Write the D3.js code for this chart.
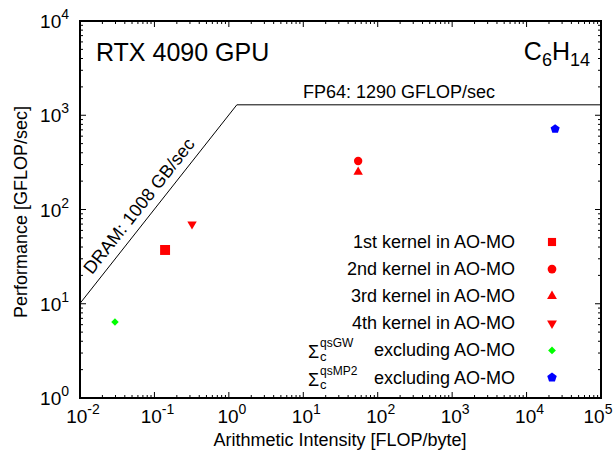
<!DOCTYPE html>
<html>
<head>
<meta charset="utf-8">
<script src="https://cdn.jsdelivr.net/npm/d3@7"></script>
<style>
body { margin: 0; background: #fff; }
text { font-family: "Liberation Sans", Arial, sans-serif; fill: #000; }
</style>
</head>
<body>
<svg id="chart" width="614" height="453"></svg>
<script>
// roofline numbers
var bandwidth = 1008;   // GB/sec
var peak = 1290;        // GFLOP/sec

// kernel points: arithmetic intensity, performance
var kernelNames = ["1st kernel in AO-MO", "2nd kernel in AO-MO", "3rd kernel in AO-MO",
                   "4th kernel in AO-MO", "excluding AO-MO", "excluding AO-MO"];
var kernelSup = ["", "", "", "", "qsGW", "qsMP2"];
var intensity = [0.139, 54.6, 54.6, 0.32, 0.0295, 24200];
var performance = [37.2, 327, 250, 70, 6.4, 715];
var shapes = ["square", "circle", "triUp", "triDown", "diamond", "pentagon"];
var colors = ["#ff0000", "#ff0000", "#ff0000", "#ff0000", "#00ff00", "#0000ff"];

var xExp = [-2, -1, 0, 1, 2, 3, 4, 5];
var yExp = [0, 1, 2, 3, 4];

var svg = d3.select("#chart");
var pLeft = 80, pRight = 601, pTop = 21, pBottom = 398;

var xScale = d3.scaleLog().domain([1e-2, 1e5]).range([pLeft, pRight]);
var yScale = d3.scaleLog().domain([1, 1e4]).range([pBottom, pTop]);

//Minor tick values
var minors = function(lo, hi) {
    var out = [];
    for (var e = lo; e < hi; e++) {
        for (var k = 2; k <= 9; k++) out.push(k * Math.pow(10, e));
    }
    return out;
};
var xMinor = minors(-2, 5);
var yMinor = minors(0, 4);

var g = svg.append("g");

//ticks, inward and mirrored
var drawTicks = function(vals, len) {
    vals.forEach(function(v) {
        var x = xScale(v);
        g.append("line").attr("x1", x).attr("x2", x).attr("y1", pBottom).attr("y2", pBottom - len)
            .attr("stroke", "#000");
        g.append("line").attr("x1", x).attr("x2", x).attr("y1", pTop).attr("y2", pTop + len)
            .attr("stroke", "#000");
    });
};
drawTicks(xMinor, 3);
drawTicks(xExp.map(function(e) { return Math.pow(10, e); }), 6);

var drawYTicks = function(vals, len) {
    vals.forEach(function(v) {
        var y = yScale(v);
        g.append("line").attr("x1", pLeft).attr("x2", pLeft + len).attr("y1", y).attr("y2", y)
            .attr("stroke", "#000");
        g.append("line").attr("x1", pRight).attr("x2", pRight - len).attr("y1", y).attr("y2", y)
            .attr("stroke", "#000");
    });
};
drawYTicks(yMinor, 3);
drawYTicks(yExp.map(function(e) { return Math.pow(10, e); }), 6);

//frame
g.append("rect").attr("x", pLeft).attr("y", pTop).attr("width", pRight - pLeft).attr("height", pBottom - pTop)
    .attr("fill", "none").attr("stroke", "#000").attr("stroke-width", 2);

//tick labels
xExp.forEach(function(e) {
    var t = svg.append("text").attr("x", Math.min(xScale(Math.pow(10, e)) + 3, 598)).attr("y", 423)
        .attr("text-anchor", "middle").style("font-size", "19px");
    t.append("tspan").text("10");
    t.append("tspan").attr("dy", -9).style("font-size", "14px").text(e);
});
yExp.forEach(function(e) {
    var t = svg.append("text").attr("x", 69).attr("y", yScale(Math.pow(10, e)) + 7)
        .attr("text-anchor", "end").style("font-size", "19px");
    t.append("tspan").text("10");
    t.append("tspan").attr("dy", -9).style("font-size", "14px").text(e);
});

//axis titles
svg.append("text").attr("x", 340).attr("y", 446).attr("text-anchor", "middle")
    .style("font-size", "18px").text("Arithmetic Intensity [FLOP/byte]");
svg.append("text").attr("transform", "translate(27,212) rotate(-90)").attr("text-anchor", "middle")
    .style("font-size", "18px").text("Performance [GFLOP/sec]");

//roofline
var ridge = peak / bandwidth;
var roof = [[1e-2, bandwidth * 1e-2], [ridge, peak], [1e5, peak]];
var line = d3.line().x(function(d) { return xScale(d[0]); }).y(function(d) { return yScale(d[1]); });
g.append("path").attr("d", line(roof)).attr("fill", "none").attr("stroke", "#000").attr("stroke-width", 1);

//roof labels
svg.append("text").attr("x", 303).attr("y", 98).style("font-size", "18px")
    .text("FP64: " + peak + " GFLOP/sec");
var angle = Math.atan2(yScale(1) - yScale(10), xScale(10) - xScale(1)) * 180 / Math.PI;
var ax = 0.0176, ay = bandwidth * ax;
svg.append("text")
    .attr("transform", "translate(" + xScale(ax) + "," + yScale(ay) + ") rotate(" + (-angle) + ")")
    .attr("y", -8)
    .style("font-size", "18px").text("DRAM: " + bandwidth + " GB/sec");

//titles
svg.append("text").attr("x", 96).attr("y", 61).style("font-size", "25px").text("RTX 4090 GPU");
var ct = svg.append("text").attr("x", 590).attr("y", 60).attr("text-anchor", "end").style("font-size", "25px");
ct.append("tspan").text("C");
ct.append("tspan").attr("dy", 6).style("font-size", "18px").text("6");
ct.append("tspan").attr("dy", -6).text("H");
ct.append("tspan").attr("dy", 6).style("font-size", "18px").text("14");

//marker symbols
var symbolFor = function(s, size) {
    if (s == "square") return d3.symbol().type(d3.symbolSquare).size(size * 1.1)();
    if (s == "circle") return d3.symbol().type(d3.symbolCircle).size(size)();
    if (s == "triUp") return d3.symbol().type(d3.symbolTriangle).size(size * 0.7)();
    if (s == "triDown") return d3.symbol().type(d3.symbolTriangle).size(size * 0.7)();
    if (s == "diamond") return d3.symbol().type(d3.symbolSquare).size(size * 0.5)();
    // pentagon
    var r = Math.sqrt(size / 2.4), pts = [];
    for (var i = 0; i < 5; i++) {
        var a = -Math.PI / 2 + i * 2 * Math.PI / 5;
        pts.push([r * Math.cos(a), r * Math.sin(a)]);
    }
    return "M" + pts.join("L") + "Z";
};
var rotFor = function(s) {
    if (s == "triDown") return " rotate(180)";
    if (s == "diamond") return " rotate(45)";
    return "";
};

//data points
g.selectAll(".pt").data(d3.range(intensity.length)).enter().append("path")
    .attr("class", "pt")
    .attr("d", function(i) { return symbolFor(shapes[i], i == 0 ? 90 : 55); })
    .attr("transform", function(i) {
        return "translate(" + xScale(intensity[i]) + "," + yScale(performance[i]) + ")" + rotFor(shapes[i]);
    })
    .attr("fill", function(i) { return colors[i]; });

//legend
var legY = 242, legStep = 27.1;
kernelNames.forEach(function(name, i) {
    var y = legY + i * legStep;
    svg.append("text").attr("x", 515).attr("y", y + 6).attr("text-anchor", "end")
        .style("font-size", "18px").text(name);
    if (kernelSup[i]) {
        svg.append("text").attr("x", 308).attr("y", y + 8).style("font-size", "18px").text("\u03a3");
        svg.append("text").attr("x", 320).attr("y", y + 11).style("font-size", "13px").text("c");
        svg.append("text").attr("x", 320).attr("y", y - 3).style("font-size", "12px").text(kernelSup[i]);
    }
    svg.append("path").attr("d", symbolFor(shapes[i], 60))
        .attr("transform", "translate(552," + y + ")" + rotFor(shapes[i]))
        .attr("fill", colors[i]);
});
</script>
</body>
</html>
